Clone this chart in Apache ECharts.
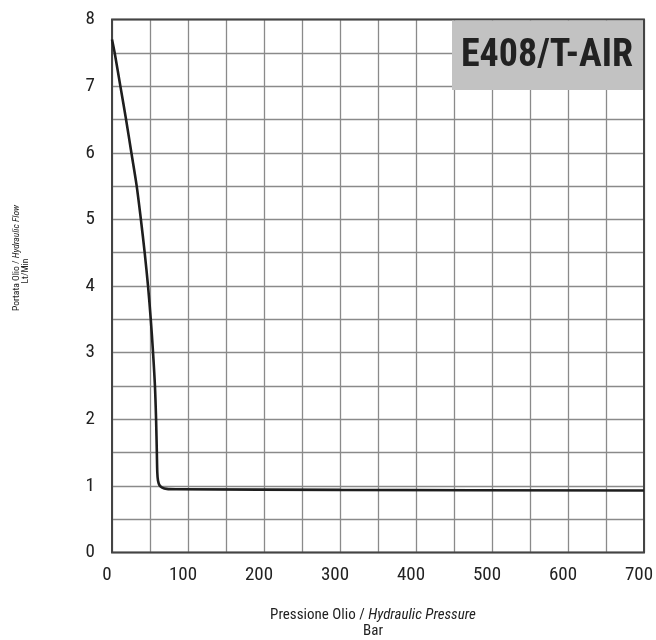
<!DOCTYPE html>
<html><head><meta charset="utf-8">
<script src="https://cdn.jsdelivr.net/npm/echarts@6/dist/echarts.min.js"></script>
<style>html,body{margin:0;padding:0;background:#fff;overflow:hidden}#c{width:656px;height:640px}</style>
</head><body><div id="c"></div>
<script>
const pressure = [0, 3.5, 11, 18.5, 25.5, 32.5, 38, 43, 47.4, 51, 54, 56.5, 58, 59, 59.6, 60.5, 62.5, 66, 72, 85, 300, 700];
const flow = [7.7, 7.5, 7.0, 6.5, 6.0, 5.5, 5.0, 4.5, 4.0, 3.5, 3.0, 2.5, 2.0, 1.5, 1.2, 1.08, 1.01, 0.975, 0.955, 0.95, 0.94, 0.93];
const xTicks = [0, 100, 200, 300, 400, 500, 600, 700];
const yTicks = [0, 1, 2, 3, 4, 5, 6, 7, 8];
const modelName = 'E408/T-AIR';

const FONT = "'Liberation Sans Narrow', 'Roboto Condensed', Roboto, sans-serif";
const chart = echarts.init(document.getElementById('c'), null, {width: 656, height: 640});
const data = pressure.map((p, i) => [p, flow[i]]);
chart.setOption({
  animation: false,
  grid: {left: 112, right: 12, top: 19.5, bottom: 87.5, containLabel: false, outerBoundsMode: 'none',
         show: true, borderColor: '#444', borderWidth: 2, z: 3},
  xAxis: {
    type: 'value', min: xTicks[0], max: xTicks[xTicks.length - 1], interval: 100,
    axisLine: {show: false}, axisTick: {show: false},
    axisLabel: {fontFamily: FONT, fontSize: 19, color: '#222', margin: 13, padding: [0, 10, 0, 0]},
    splitLine: {show: true, lineStyle: {color: '#8a8a8a', width: 1.3}},
    minorTick: {show: false, splitNumber: 2},
    minorSplitLine: {show: true, lineStyle: {color: '#8a8a8a', width: 1.3}}
  },
  yAxis: {
    type: 'value', min: yTicks[0], max: yTicks[yTicks.length - 1], interval: 1,
    axisLine: {show: false}, axisTick: {show: false},
    axisLabel: {fontFamily: FONT, fontSize: 19, color: '#222', margin: 17},
    splitLine: {show: true, lineStyle: {color: '#8a8a8a', width: 1.3}},
    minorTick: {show: false, splitNumber: 2},
    minorSplitLine: {show: true, lineStyle: {color: '#8a8a8a', width: 1.3}}
  },
  series: [{
    type: 'line', data: data, smooth: 0.3, showSymbol: false,
    lineStyle: {color: '#1e1e1e', width: 2.6}, z: 5
  }],
  graphic: [
    {type: 'rect', z: 4, shape: {x: 452, y: 20.5, width: 191, height: 69.5}, style: {fill: '#c2c2c2'}},
    {type: 'text', z: 6, x: 547, y: 56, style: {text: modelName, fontFamily: FONT, fontWeight: 'bold', fontSize: 38, fill: '#222', textAlign: 'center', textVerticalAlign: 'middle'}},
    {type: 'text', z: 6, x: 373, y: 615, style: {
      text: '{a|Pressione Olio / }{b|Hydraulic Pressure}', textAlign: 'center', textVerticalAlign: 'middle',
      rich: {a: {fontFamily: FONT, fontSize: 15, fill: '#222'}, b: {fontFamily: FONT, fontSize: 15, fontStyle: 'italic', fill: '#222'}}}},
    {type: 'text', z: 6, x: 373, y: 631, style: {text: 'Bar', fontFamily: FONT, fontSize: 15, fill: '#222', textAlign: 'center', textVerticalAlign: 'middle'}},
    {type: 'text', z: 6, x: 17, y: 258, rotation: Math.PI / 2, style: {
      text: '{a|Portata Olio / }{b|Hydraulic Flow}', textAlign: 'center', textVerticalAlign: 'middle',
      rich: {a: {fontFamily: FONT, fontSize: 9.5, fill: '#222'}, b: {fontFamily: FONT, fontSize: 9.5, fontStyle: 'italic', fill: '#222'}}}},
    {type: 'text', z: 6, x: 26, y: 271, rotation: Math.PI / 2, style: {text: 'Lt/Min', fontFamily: FONT, fontSize: 9.5, fill: '#222', textAlign: 'center', textVerticalAlign: 'middle'}}
  ]
});
</script></body></html>
